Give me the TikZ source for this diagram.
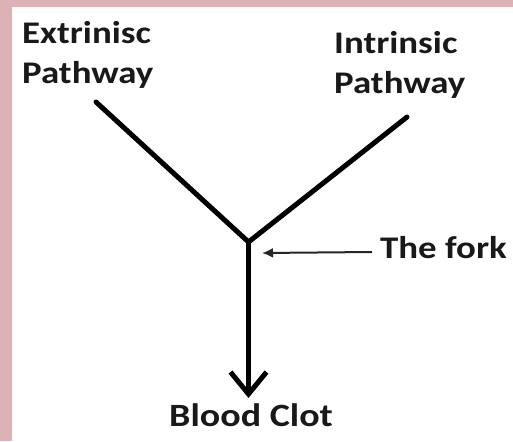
\documentclass[tikz,border=0pt]{standalone}
\usepackage{fontspec}
\setmainfont{Carlito}[FakeStretch=1.17]
\usetikzlibrary{arrows.meta}
\definecolor{pinkborder}{RGB}{221,178,183}
\tikzset{
  lbl/.style={anchor=base west, inner sep=0pt, font=\fontsize{31.5}{40}\selectfont\bfseries, text=black!90},
  bigline/.style={line width=5pt, black},
  pointer/.style={line width=2pt, black!85, -{Latex[length=11pt,width=10pt]}}
}
\begin{document}
\begin{tikzpicture}[x=1pt,y=-1pt]
  \useasboundingbox (0,0) rectangle (513,441);
  \fill[pinkborder] (0,0) rectangle (513,441);
  \fill[white] (12,7) rectangle (513,441);
  % labels
  \node[lbl] (ext1) at (22,43.3) {Extrinisc};
  \node[lbl] (ext2) at (22,83.3) {Pathway};
  \node[lbl] (int1) at (334,53.3) {Intrinsic};
  \node[lbl] (int2) at (334,93.3) {Pathway};
  \node[lbl] (forklbl) at (380,258.3) {The fork};
  \node[lbl, font=\fontsize{32.5}{40}\selectfont\bfseries] (clot) at (169,426.7) {Blood Clot};
  % geometry
  \coordinate (extend) at (96,102);
  \coordinate (intend) at (407,117);
  \coordinate (fork) at (248.5,242);
  \coordinate (tip) at (248.5,398);
  \coordinate (ptr) at (262,253);
  \draw[bigline, line cap=round] (extend) -- (fork) -- (intend);
  \draw[bigline, -{Straight Barb[length=22pt,width=36pt]}] (fork) -- (tip);
  \draw[pointer] (forklbl.west |- ptr) ++(-8,-1) -- (ptr);
\end{tikzpicture}
\end{document}
